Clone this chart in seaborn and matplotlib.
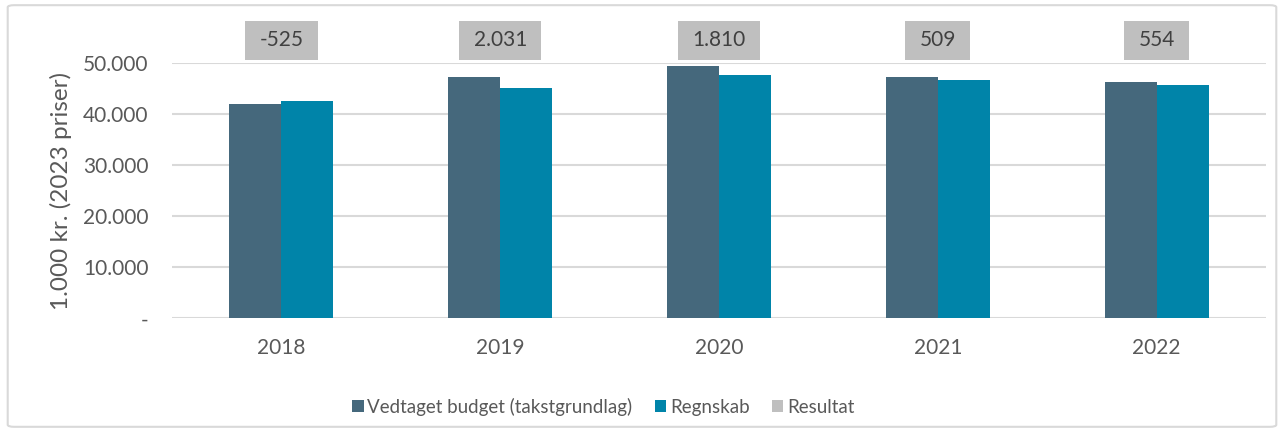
import matplotlib
matplotlib.use("Agg")
import matplotlib.pyplot as plt
import matplotlib.patches as mpatches
import matplotlib.ticker as mticker
from matplotlib.path import Path
import pandas as pd
import seaborn as sns

years = ["2018", "2019", "2020", "2021", "2022"]
budget = [41950, 47100, 49400, 47150, 46150]
regnskab = [42475, 45070, 47590, 46640, 45600]
resultat = [-525, 2031, 1810, 509, 554]
result_labels = ["-525", "2.031", "1.810", "509", "554"]
series_names = ["Vedtaget budget (takstgrundlag)", "Regnskab", "Resultat"]
colors = ["#45687c", "#0084a9", "#bfbfbf"]
ylabel = "1.000 kr. (2023 priser)"

sns.set_theme(style="white")
plt.rcParams["font.family"] = ["Lato", "DejaVu Sans"]
txt = "#595959"

df = pd.DataFrame({
    "year": years * 2,
    "value": budget + regnskab,
    "series": [series_names[0]] * len(years) + [series_names[1]] * len(years),
})


def label_box(x0, y0, width, height, mutation_size):
    px = 0.68 * mutation_size
    py = 0.46 * mutation_size
    x0, x1 = x0 - px, x0 + width + px
    y0, y1 = y0 - py, y0 + height + py
    return Path([(x0, y0), (x1, y0), (x1, y1), (x0, y1), (x0, y0)], closed=True)


fig = plt.figure(figsize=(12.84, 4.32), dpi=100)
fig.patch.set_facecolor("white")
border = mpatches.FancyBboxPatch((0.006, 0.012), 0.988, 0.976,
                                 boxstyle="round,pad=0,rounding_size=0.005",
                                 transform=fig.transFigure, fill=False,
                                 edgecolor="#d9d9d9", linewidth=1.5)
fig.patches.append(border)

ax = fig.add_axes([0.134, 0.263, 0.852, 0.592])
sns.barplot(data=df, x="year", y="value", hue="series",
            palette=colors[:2], width=0.475, gap=0, saturation=1,
            ax=ax, legend=False, errorbar=None, linewidth=0)

ax.set_ylim(0, 50000)
ax.set_xlim(-0.5, len(years) - 0.5)
ax.yaxis.set_major_locator(mticker.MultipleLocator(10000))
ax.yaxis.set_major_formatter(mticker.FuncFormatter(
    lambda v, p: "-" if v == 0 else f"{int(v):,}".replace(",", ".")))
ax.grid(axis="y", color="#d9d9d9", linewidth=1.5)
ax.set_axisbelow(True)
for s in ax.spines.values():
    s.set_visible(False)
ax.tick_params(axis="y", length=0, pad=17, labelsize=15, labelcolor=txt)
ax.tick_params(axis="x", length=0, pad=14, labelsize=15, labelcolor=txt)
ax.set_xlabel("")
ax.set_ylabel(ylabel, fontsize=17.5, color=txt)
ax.yaxis.set_label_coords(-0.0914, 0.5)

for i, lab in enumerate(result_labels):
    ax.text(i, 1.087, lab, transform=ax.get_xaxis_transform(),
            ha="center", va="center", fontsize=15, color="#404040",
            bbox=dict(boxstyle=label_box, facecolor=colors[2],
                      edgecolor="none"),
            clip_on=False)

handles = [mpatches.Patch(facecolor=c, edgecolor="none") for c in colors]
fig.legend(handles, series_names, loc="center", bbox_to_anchor=(0.47, 0.058),
           ncol=3, frameon=False, fontsize=13.5, labelcolor=txt,
           handlelength=0.6, handleheight=0.6, handletextpad=0.2,
           columnspacing=1.2)

fig.savefig("out.png", dpi=100)
